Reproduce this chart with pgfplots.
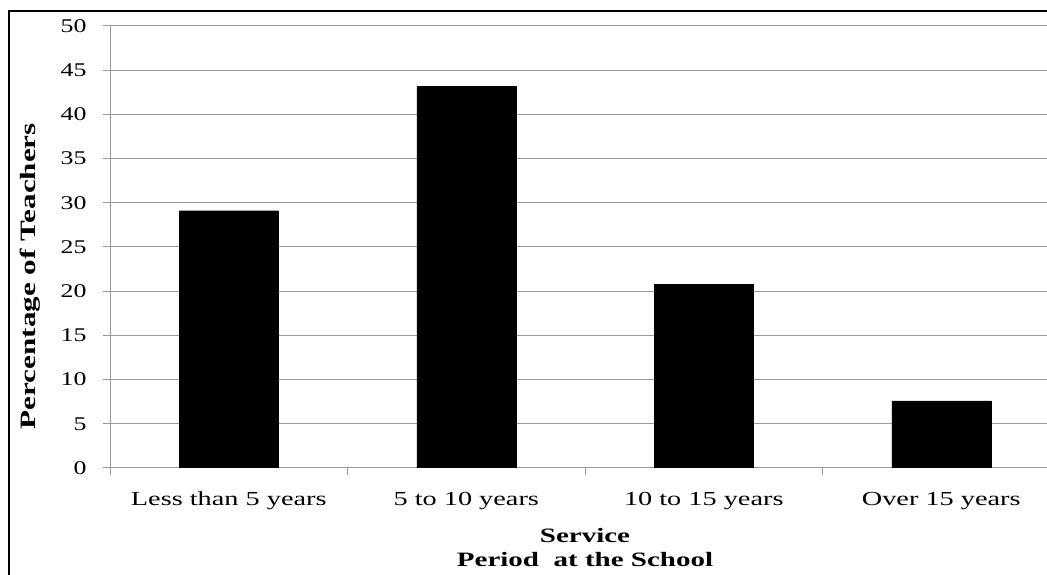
\documentclass[border=0pt]{standalone}
\usepackage{fontspec}
\setmainfont{Liberation Serif}
\newfontfamily\wide{Liberation Serif}[FakeStretch=1.42]
\newfontfamily\widenum{Liberation Serif}[FakeStretch=1.33]
\usepackage{pgfplots}
\pgfplotsset{compat=1.18}
\definecolor{gridgray}{gray}{0.6}
\begin{document}
\begin{tikzpicture}[x=1bp,y=1bp]
\useasboundingbox (0,0) rectangle (1047,575);
\begin{axis}[
  at={(110bp,107bp)}, anchor=south west,
  scale only axis, width=950bp, height=442bp,
  xmin=-0.5, xmax=3.5, ymin=0, ymax=50,
  ybar, bar width=99bp,
  xtick={-0.5,0.5,1.5,2.5,3.5},
  xticklabels={},
  extra x ticks={0,1,2,3},
  extra x tick labels={Less than 5 years, 5 to 10 years, 10 to 15 years, Over 15 years},
  extra x tick style={major tick length=0pt, tick style={draw=none},
    xticklabel style={anchor=base, yshift=-38bp, font=\wide\fontsize{20}{24}\selectfont}},
  ytick={0,5,...,50},
  ymajorgrids, major grid style={gridgray, line width=1bp},
  axis lines*=left, axis line style={gridgray, line width=1bp},
  tick align=outside, major tick length=7bp,
  tick style={gridgray, line width=1bp},
  /pgf/number format/assume math mode=true,
  yticklabel style={font=\widenum\fontsize{19.5}{22}\selectfont, xshift=-13bp},
  ylabel={Percentage of Teachers},
  ylabel style={at={(axis description cs:-0.0789,0.434)}, anchor=base,
    font=\wide\bfseries\fontsize{22}{26}\selectfont},
  xlabel={Service\\Period\ \ at the School},
  xlabel style={at={(axis description cs:0.5,-0.129)}, anchor=north, align=center,
    font=\wide\bfseries\fontsize{20.5}{24}\selectfont},
]
\addplot[fill=black, draw=black] coordinates {(0,29.1) (1,43.2) (2,20.8) (3,7.6)};
\end{axis}
\draw[line width=1.3bp] (9,-10) -- (9,564) -- (1060,564);
\end{tikzpicture}
\end{document}
